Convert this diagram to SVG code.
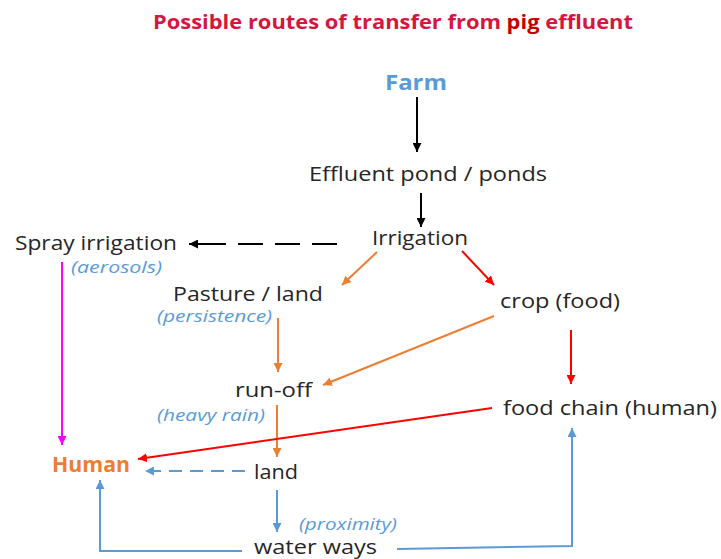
<svg xmlns="http://www.w3.org/2000/svg" width="721" height="559" viewBox="0 0 721 559">
<defs>
<style>
text{font-family:"Open Sans","Noto Sans","Liberation Sans",sans-serif;fill:#262626;font-size:20px}
.title{font-weight:bold;fill:#d6163f;font-size:19px}
.farm{font-weight:bold;fill:#5b9bd5;font-size:22px}
.human{font-weight:bold;fill:#ed7d31;font-size:21px}
.note{font-style:italic;fill:#5b9bd5;font-size:16px}
.c{fill:none;stroke-width:2}
.k{stroke:#000}
.o{stroke:#ed7d31}
.r{stroke:#ff0000}
.m{stroke:#ff00ff}
.b{stroke:#5b9bd5}
</style>
<marker id="ak" viewBox="0 0 10 10" refX="10" refY="5" markerWidth="9" markerHeight="9" markerUnits="userSpaceOnUse" orient="auto"><path d="M0,0L10,5L0,10z" fill="#000"/></marker>
<marker id="ao" viewBox="0 0 10 10" refX="10" refY="5" markerWidth="9" markerHeight="9" markerUnits="userSpaceOnUse" orient="auto"><path d="M0,0L10,5L0,10z" fill="#ed7d31"/></marker>
<marker id="ar" viewBox="0 0 10 10" refX="10" refY="5" markerWidth="9" markerHeight="9" markerUnits="userSpaceOnUse" orient="auto"><path d="M0,0L10,5L0,10z" fill="#ff0000"/></marker>
<marker id="am" viewBox="0 0 10 10" refX="10" refY="5" markerWidth="9" markerHeight="9" markerUnits="userSpaceOnUse" orient="auto"><path d="M0,0L10,5L0,10z" fill="#ff00ff"/></marker>
<marker id="ab" viewBox="0 0 10 10" refX="10" refY="5" markerWidth="9" markerHeight="9" markerUnits="userSpaceOnUse" orient="auto"><path d="M0,0L10,5L0,10z" fill="#5b9bd5"/></marker>
</defs>
<rect width="721" height="559" fill="#fff"/>
<text class="title" x="153" y="29" textLength="480" lengthAdjust="spacingAndGlyphs">Possible routes of transfer from <tspan fill="#c00000">pig</tspan> effluent</text>
<g id="connectors">
<path class="c k" d="M417,97V152" marker-end="url(#ak)"/>
<path class="c k" d="M421,193V227" marker-end="url(#ak)"/>
<path class="c k" d="M337,244H200" stroke-width="3" stroke-dasharray="25 12"/>
<path class="c k" d="M205,244H189" stroke-width="3" marker-end="url(#ak)"/>
<path class="c o" d="M377,252L342,285" marker-end="url(#ao)"/>
<path class="c r" d="M462,251L494,285" marker-end="url(#ar)"/>
<path class="c o" d="M278,318V372" marker-end="url(#ao)"/>
<path class="c o" d="M494,316L323,385" marker-end="url(#ao)"/>
<path class="c r" d="M571,330V384" marker-end="url(#ar)"/>
<path class="c o" d="M277,405V457" marker-end="url(#ao)"/>
<path class="c r" d="M492,408L138,459" marker-end="url(#ar)"/>
<path class="c m" d="M62,262V445" marker-end="url(#am)"/>
<path class="c b" d="M245,471H145" stroke-width="2.5" stroke-dasharray="13 8" marker-end="url(#ab)"/>
<path class="c b" d="M277,490V532" marker-end="url(#ab)"/>
<path class="c b" d="M242,551H100V480" marker-end="url(#ab)"/>
<path class="c b" d="M397,549L572,546V428" marker-end="url(#ab)"/>
</g>
<g id="farm"><text class="farm" x="385" y="90" textLength="62" lengthAdjust="spacingAndGlyphs">Farm</text></g>
<g id="effluent-pond"><text x="309" y="181" textLength="238" lengthAdjust="spacingAndGlyphs">Effluent pond / ponds</text></g>
<g id="irrigation"><text x="372" y="245" textLength="96" lengthAdjust="spacingAndGlyphs">Irrigation</text></g>
<g id="spray-irrigation"><text x="15" y="250" textLength="162" lengthAdjust="spacingAndGlyphs">Spray irrigation</text><text class="note" x="71" y="273" textLength="91" lengthAdjust="spacingAndGlyphs">(aerosols)</text></g>
<g id="pasture"><text x="173" y="301" textLength="150" lengthAdjust="spacingAndGlyphs">Pasture / land</text><text class="note" x="157" y="322" textLength="115" lengthAdjust="spacingAndGlyphs">(persistence)</text></g>
<g id="crop"><text x="500" y="308" textLength="120" lengthAdjust="spacingAndGlyphs">crop (food)</text></g>
<g id="run-off"><text x="235" y="397" textLength="77" lengthAdjust="spacingAndGlyphs">run-off</text><text class="note" x="157" y="421" textLength="108" lengthAdjust="spacingAndGlyphs">(heavy rain)</text></g>
<g id="food-chain"><text x="503" y="415" textLength="214" lengthAdjust="spacingAndGlyphs">food chain (human)</text></g>
<g id="human"><text class="human" x="52" y="472" textLength="78" lengthAdjust="spacingAndGlyphs">Human</text></g>
<g id="land"><text x="254" y="479" textLength="44" lengthAdjust="spacingAndGlyphs">land</text></g>
<g id="water-ways"><text x="254" y="554" textLength="123" lengthAdjust="spacingAndGlyphs">water ways</text><text class="note" x="299" y="530" textLength="98" lengthAdjust="spacingAndGlyphs">(proximity)</text></g>
</svg>
